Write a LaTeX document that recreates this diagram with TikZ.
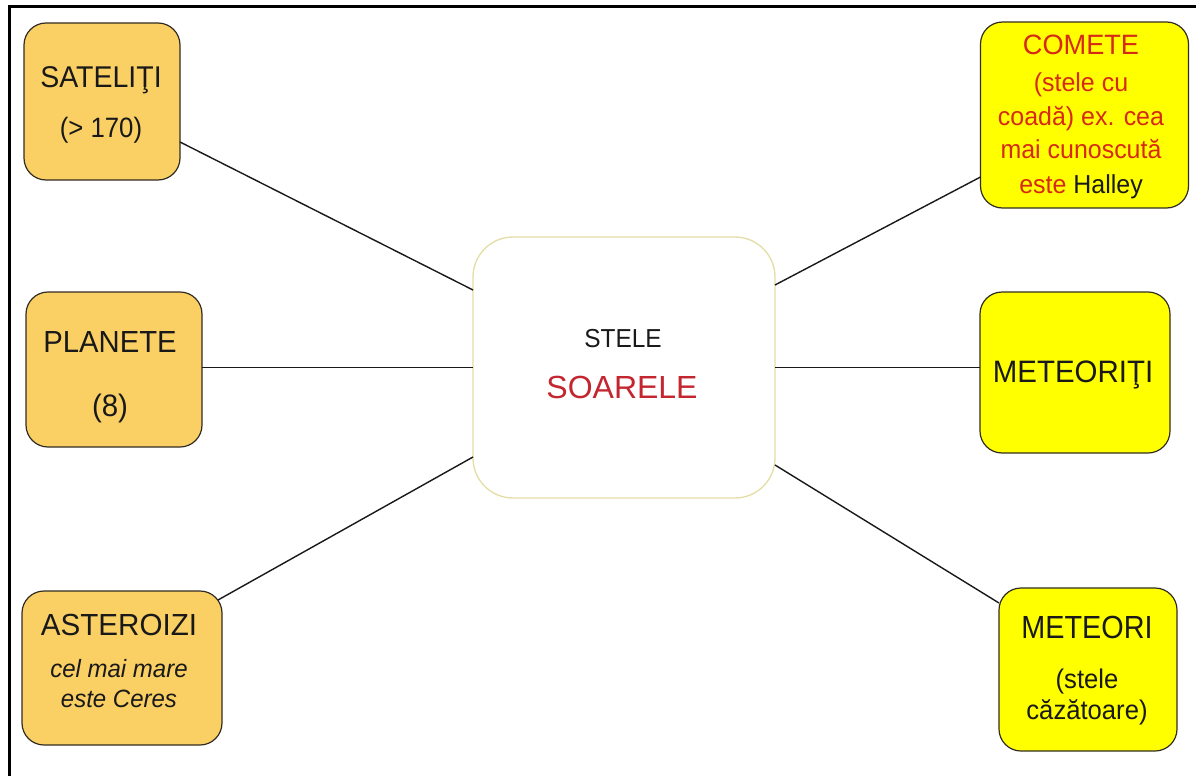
\documentclass[tikz,border=0pt]{standalone}
\usepackage{graphicx}
\usepackage{fontspec}
\setmainfont{Liberation Sans}
\newcommand\setfs[1]{\fontsize{#1}{#1}\selectfont}
\newcommand\cx[2]{\scalebox{#1}[1]{#2}}
\definecolor{leftfill}{RGB}{250,208,100}
\definecolor{rightfill}{RGB}{255,255,0}
\definecolor{boxline}{RGB}{50,45,35}
\definecolor{sunline}{RGB}{228,222,165}
\definecolor{ink}{RGB}{25,25,25}
\definecolor{sunred}{RGB}{196,38,48}
\definecolor{comred}{RGB}{215,42,20}
\tikzset{
  box/.style={draw=boxline, line width=1.2pt, rounded corners=22pt, inner sep=0pt, outer sep=0pt},
  lbox/.style={box, fill=leftfill},
  rbox/.style={box, fill=rightfill},
  sunbox/.style={draw=sunline, line width=1.3pt, fill=white, rounded corners=40pt, inner sep=0pt, outer sep=0pt},
  txt/.style={anchor=base, inner sep=0pt, outer sep=0pt, text=ink},
  conn/.style={draw=ink, line width=1.4pt},
  frame/.style={draw=black, line width=3pt}
}
\begin{document}
\begin{tikzpicture}[x=1pt,y=-1pt]
\useasboundingbox (0,0) rectangle (1196,776);
\fill[white] (0,0) rectangle (1196,776);
\draw[frame] (1196,7) -- (9.5,7) -- (9.5,776);

% boxes
\node[lbox, minimum width=156pt, minimum height=157pt] (sat) at (102,101.5) {};
\node[lbox, minimum width=176pt, minimum height=155pt] (pla) at (114,369.5) {};
\node[lbox, minimum width=200pt, minimum height=154pt] (ast) at (122,668) {};
\node[rbox, minimum width=208pt, minimum height=186pt] (com) at (1084.5,115) {};
\node[rbox, minimum width=190pt, minimum height=161pt] (met) at (1075,372.5) {};
\node[rbox, minimum width=178pt, minimum height=163pt] (mor) at (1088,669.5) {};
\node[sunbox, minimum width=302pt, minimum height=261pt] (sun) at (624,367.5) {};

% connectors
\draw[conn] ([yshift=-40.5pt]sat.east) -- ([yshift=77.5pt]sun.west);
\draw[conn] (pla.east |- sun.west) -- (sun.west);
\draw[conn] ([xshift=-4pt,yshift=68pt]ast.east) -- ([yshift=-89.5pt]sun.west);
\draw[conn] ([yshift=82.5pt]sun.east) -- ([yshift=-62pt]com.west);
\draw[conn] (sun.east) -- (sun.east -| met.west);
\draw[conn] ([yshift=-97.5pt]sun.east) -- ([yshift=66.5pt]mor.west);

% texts
\node[txt, font=\setfs{30}] (satA) at (101,87) {\cx{0.95}{SATELIŢI}};
\node[txt, font=\setfs{28}] (satB) at (101,137) {\cx{0.92}{(> 170)}};

\node[txt, font=\setfs{30.5}] (plaA) at (110,352) {\cx{0.96}{PLANETE}};
\node[txt, font=\setfs{31}] (plaB) at (110,416) {\cx{0.95}{(8)}};

\node[txt, font=\setfs{30.5}] (astA) at (119,635) {\cx{0.97}{ASTEROIZI}};
\node[txt, font=\setfs{25}\itshape] (astB) at (119,677) {\cx{0.96}{cel mai mare}};
\node[txt, font=\setfs{25}\itshape] (astC) at (119,707) {\cx{0.96}{este Ceres}};

\node[txt, font=\setfs{28}, text=comred] (comA) at (1081,55) {\cx{0.97}{COMETE}};
\node[txt, font=\setfs{26}, text=comred] (comB) at (1081,92) {\cx{0.96}{(stele cu}};
\node[txt, font=\setfs{26}, text=comred] (comC) at (1081,125) {\cx{0.96}{coadă) ex. cea}};
\node[txt, font=\setfs{26}, text=comred] (comD) at (1081,158) {\cx{0.96}{mai cunoscută}};
\node[txt, font=\setfs{26}, text=comred] (comE) at (1081,193) {\cx{0.96}{este \textcolor{ink}{Halley}}};

\node[txt, font=\setfs{31}] (metA) at (1073,382) {\cx{0.95}{METEORIŢI}};

\node[txt, font=\setfs{32}] (morA) at (1087,638) {\cx{0.9}{METEORI}};
\node[txt, font=\setfs{27}] (morB) at (1087,688) {\cx{0.95}{(stele}};
\node[txt, font=\setfs{27}] (morC) at (1087,719) {\cx{0.95}{căzătoare)}};

\node[txt, font=\setfs{26}] (sunA) at (623,347) {\cx{0.94}{STELE}};
\node[txt, font=\setfs{32}, text=sunred] (sunB) at (622,398) {SOARELE};
\end{tikzpicture}
\end{document}
